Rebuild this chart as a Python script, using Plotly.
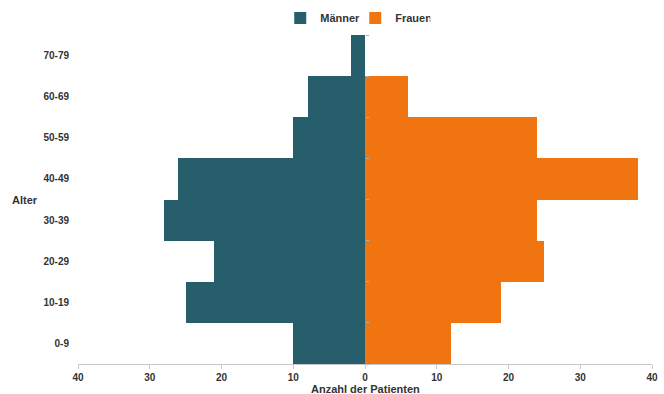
import plotly.graph_objects as go

# Altersgruppen (unten nach oben) und Anzahl der Patienten
age_groups = ["0-9", "10-19", "20-29", "30-39", "40-49", "50-59", "60-69", "70-79"]
maenner = [10, 25, 21, 28, 26, 10, 8, 2]
frauen = [12, 19, 25, 24, 38, 24, 6, 0]

tick_vals = [-40, -30, -20, -10, 0, 10, 20, 30, 40]
tick_text = [str(abs(v)) for v in tick_vals]

teal = "#265E6C"
orange = "#F07511"
text_color = "#333333"
font_family = "Liberation Sans, Arial, sans-serif"

fig = go.Figure()
fig.add_trace(go.Bar(
    y=age_groups, x=[-v for v in maenner], orientation="h", name="Männer",
    marker=dict(color=teal, line=dict(width=0)),
))
fig.add_trace(go.Bar(
    y=age_groups, x=frauen, orientation="h", name="Frauen", yaxis="y2",
    marker=dict(color=orange, line=dict(width=0)),
))

fig.update_layout(
    width=664, height=394,
    margin=dict(l=78, r=12, t=35, b=30, autoexpand=False),
    paper_bgcolor="white", plot_bgcolor="white",
    barmode="relative", bargap=0,
    font=dict(family=font_family, size=10, color=text_color),
    legend=dict(
        orientation="h", xref="container", yref="container",
        x=0.535, xanchor="center", y=1 - 18 / 394, yanchor="middle",
        font=dict(size=11, color=text_color, family=font_family, weight="bold"),
        itemwidth=30, entrywidth=30, tracegroupgap=0, bgcolor="rgba(0,0,0,0)",
    ),
    xaxis=dict(
        range=[-40, 40], tickvals=tick_vals, ticktext=tick_text,
        showgrid=False, zeroline=False, automargin=False,
        showline=True, linecolor="#c8c8c8", linewidth=1,
        ticks="outside", ticklen=4, tickcolor="#c8c8c8",
        tickfont=dict(size=10, weight="bold", color=text_color),
    ),
    yaxis=dict(
        categoryorder="array", categoryarray=age_groups,
        showgrid=False, zeroline=False, showline=False, ticks="",
        automargin=False, ticklabelstandoff=8,
        tickfont=dict(size=10, weight="bold", color=text_color),
    ),
    # Mittelachse bei 0 mit kleinen Markierungen an den Klassengrenzen
    yaxis2=dict(
        matches="y", overlaying="y", anchor="free", position=0.5, side="right",
        showgrid=False, zeroline=False, showline=False, showticklabels=False,
        ticks="outside", ticklen=3, tickcolor="#b0b0b0", tickson="boundaries",
        automargin=False,
    ),
    annotations=[
        dict(text="Anzahl der Patienten", xref="paper", yref="paper",
             x=0.5, y=0, yshift=-25, xanchor="center", yanchor="middle",
             showarrow=False, font=dict(size=11, weight="bold", color=text_color)),
        dict(text="Alter", xref="paper", yref="paper",
             x=0, xshift=-38, y=0.5, xanchor="right", yanchor="middle",
             showarrow=False, font=dict(size=11, weight="bold", color=text_color)),
    ],
)

fig.write_html("out.html")
